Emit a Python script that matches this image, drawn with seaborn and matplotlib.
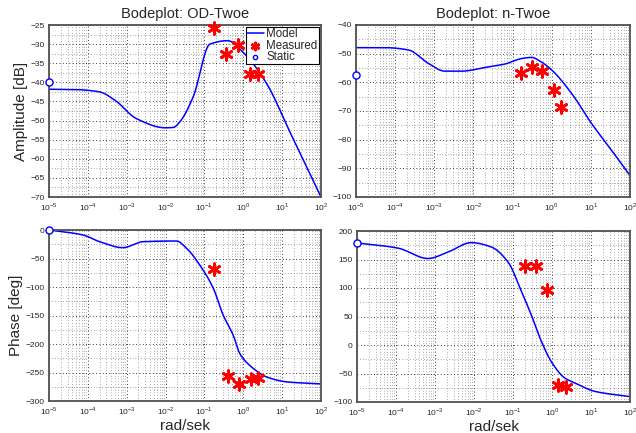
import numpy as np
import pandas as pd
import matplotlib
matplotlib.use("Agg")
import matplotlib.pyplot as plt
import matplotlib.ticker as mticker
import seaborn as sns

# ---- data ----
# OD-Twoe amplitude model (log10 frequency, dB)
od_amp_logw = [-5, -4.3, -3.7, -3.3, -2.75, -2.0, -1.8, -1.63, -1.29, -0.86, -0.4, 0.0, 0.6, 1.2, 2.0]
od_amp_db = [-41.8, -41.9, -42.5, -44.7, -49.5, -51.9, -51.8, -50.3, -43.8, -30.0, -29.1, -32.2, -40.3, -53.0, -70.0]
od_meas_w = [0.178, 0.35, 0.74, 1.5, 2.4]
od_meas_db = [-25.8, -32.7, -30.3, -37.8, -37.8]
od_static_db = -39.8

# n-Twoe amplitude model
n_amp_logw = [-5, -4.26, -3.66, -3.15, -2.73, -2.3, -1.7, -1.19, -0.77, -0.51, -0.3, 0.0, 0.51, 1.02, 1.53, 2.0]
n_amp_db = [-47.9, -47.9, -48.7, -53.4, -56.1, -56.1, -54.8, -53.6, -51.7, -51.3, -52.6, -55.7, -63.9, -74.4, -83.7, -92.5]
n_meas_w = [0.16, 0.32, 0.56, 1.15, 1.7]
n_meas_db = [-56.7, -54.6, -56.1, -62.7, -68.5]
n_static_db = -57.6

# OD-Twoe phase model
od_ph_logw = [-5, -4.12, -3.7, -3.1, -2.58, -1.72, -1.46, -1.12, -0.77, -0.52, -0.26, -0.09, 0.26, 0.6, 1.12, 2.0]
od_ph_deg = [0, -8.8, -20.5, -31, -20.5, -19.3, -32, -61.5, -102.5, -149, -184.5, -216.7, -243, -257.8, -266.5, -270.0]
od_ph_meas_w = [0.178, 0.40, 0.79, 1.55, 2.45]
od_ph_meas_deg = [-68.5, -256.6, -271, -260.6, -259]
od_ph_static = 0

# n-Twoe phase model
n_ph_logw = [-5, -3.95, -3.18, -2.67, -2.07, -1.56, -1.13, -0.78, -0.53, -0.27, -0.02, 0.33, 0.59, 1.1, 2.0]
n_ph_deg = [179, 170, 151.7, 163, 179.6, 172, 145.8, 93.4, 52.6, 6, -29, -58, -66.7, -81.4, -90.5]
n_ph_meas_w = [0.2, 0.39, 0.74, 1.45, 2.3]
n_ph_meas_deg = [138.8, 138.8, 96.3, -69.6, -74.3]
n_ph_static = 179

titles = ["Bodeplot: OD-Twoe", "Bodeplot: n-Twoe"]
ylabels = ["Amplitude [dB]", "Phase [deg]"]
xlabel = "rad/sek"
legend_labels = ["Model", "Measured", "Static"]

sns.set_style("white")
plt.rcParams["font.family"] = ["Liberation Sans", "DejaVu Sans"]
plt.rcParams["mathtext.fontset"] = "custom"
plt.rcParams["mathtext.rm"] = "Liberation Sans"

fig = plt.figure(figsize=(6.36, 4.33), dpi=100)
W, H = 636, 433
def pos(l, t, r, b):
    return [l / W, 1 - b / H, (r - l) / W, (b - t) / H]

ax_tl = fig.add_axes(pos(49, 25, 321, 197))
ax_tr = fig.add_axes(pos(356, 25, 630, 197))
ax_bl = fig.add_axes(pos(49, 230, 321, 401))
ax_br = fig.add_axes(pos(357, 231, 630, 402))

def smooth(logw, vals):
    xs = np.linspace(min(logw), max(logw), 400)
    x = np.asarray(logw, float); y = np.asarray(vals, float)
    h = np.diff(x); d = np.diff(y) / h
    m = np.zeros_like(y)
    m[0] = d[0]; m[-1] = d[-1]
    for i in range(1, len(x) - 1):
        if d[i - 1] * d[i] <= 0:
            m[i] = 0
        else:
            w1 = 2 * h[i] + h[i - 1]; w2 = h[i] + 2 * h[i - 1]
            m[i] = (w1 + w2) / (w1 / d[i - 1] + w2 / d[i])
    out = np.empty_like(xs)
    for k, xv in enumerate(xs):
        i = min(np.searchsorted(x, xv, side="right") - 1, len(x) - 2)
        i = max(i, 0)
        t = (xv - x[i]) / h[i]
        h00 = 2*t**3 - 3*t**2 + 1; h10 = t**3 - 2*t**2 + t
        h01 = -2*t**3 + 3*t**2; h11 = t**3 - t**2
        out[k] = h00*y[i] + h10*h[i]*m[i] + h01*y[i+1] + h11*h[i]*m[i+1]
    return 10 ** xs, out

star = (6, 2, 0)

def panel(ax, logw, vals, mw, mv, static, ylim, yticks, title=None, ylabel=None, xl=None, legend=False):
    w, v = smooth(logw, vals)
    df = pd.DataFrame({"w": w, "v": v})
    sns.lineplot(data=df, x="w", y="v", ax=ax, color="#0000ff", lw=1.1, label=legend_labels[0] if legend else None, legend=False)
    dm = pd.DataFrame({"w": mw, "v": mv})
    sns.scatterplot(data=dm, x="w", y="v", ax=ax, marker=star, s=70, color="red",
                    edgecolor="red", linewidth=2.0, label=legend_labels[1] if legend else None, legend=False, zorder=5, clip_on=False)
    ds = pd.DataFrame({"w": [1e-5], "v": [static]})
    sns.scatterplot(data=ds, x="w", y="v", ax=ax, marker="o", s=26, facecolor="white",
                    edgecolor="#0000ff", linewidth=1.0, label=legend_labels[2] if legend else None, legend=False, zorder=6, clip_on=False)
    ax.set_xscale("log")
    ax.set_xlim(1e-5, 1e2)
    ax.set_ylim(*ylim)
    ax.set_yticks(yticks)
    ax.set_xticks([10.0 ** k for k in range(-5, 3)])
    ax.xaxis.set_major_formatter(mticker.FuncFormatter(lambda x, p: r"$10^{%d}$" % round(np.log10(x))))
    ax.xaxis.set_minor_locator(mticker.LogLocator(base=10, subs=np.arange(2, 10), numticks=20))
    ax.xaxis.set_minor_formatter(mticker.NullFormatter())
    step = yticks[1] - yticks[0]
    ax.yaxis.set_minor_locator(mticker.MultipleLocator(step / 2))
    ax.grid(True, which="major", linestyle=(0, (1, 3)), color="black", lw=0.6)
    ax.grid(True, which="minor", linestyle=(0, (1, 4)), color="black", lw=0.4)
    ax.tick_params(axis="both", which="major", labelsize=6, direction="in", length=3, color="#333333", pad=3)
    ax.tick_params(axis="both", which="minor", direction="in", length=0)
    for s in ax.spines.values():
        s.set_color("#505050"); s.set_linewidth(1.3)
    ax.set_xlabel(xl if xl else "", fontsize=11, labelpad=1)
    ax.set_ylabel(ylabel if ylabel else "", fontsize=11, labelpad=2)
    if title:
        ax.set_title(title, fontsize=10.5, pad=5)
    if legend:
        leg = ax.legend(loc="upper right", fontsize=8.3, frameon=True, fancybox=False, borderpad=0.1,
                        handlelength=1.5, handletextpad=0.2, labelspacing=-0.05, borderaxespad=0.2,
                        markerscale=0.6)
        leg.get_frame().set_edgecolor("black")
        leg.get_frame().set_linewidth(0.8)
        leg.get_frame().set_alpha(1)

panel(ax_tl, od_amp_logw, od_amp_db, od_meas_w, od_meas_db, od_static_db, (-70, -25),
      list(range(-70, -24, 5)), title=titles[0], ylabel=ylabels[0], legend=True)
panel(ax_tr, n_amp_logw, n_amp_db, n_meas_w, n_meas_db, n_static_db, (-100, -40),
      list(range(-100, -39, 10)), title=titles[1])
panel(ax_bl, od_ph_logw, od_ph_deg, od_ph_meas_w, od_ph_meas_deg, od_ph_static, (-300, 0),
      list(range(-300, 1, 50)), ylabel=ylabels[1], xl=xlabel)
panel(ax_br, n_ph_logw, n_ph_deg, n_ph_meas_w, n_ph_meas_deg, n_ph_static, (-100, 200),
      list(range(-100, 201, 50)), xl=xlabel)

fig.savefig("out.png", dpi=100)
